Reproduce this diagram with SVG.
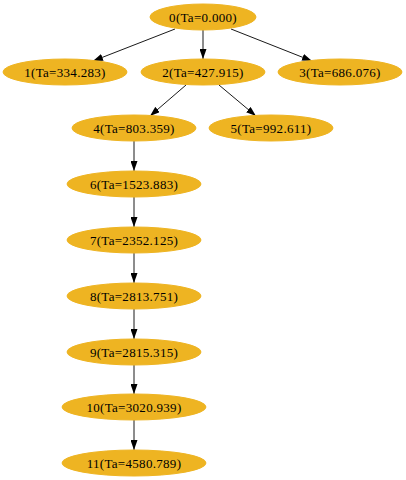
<svg xmlns="http://www.w3.org/2000/svg" width="406" height="480" viewBox="0 0 406 480">
<style>
.n ellipse{fill:#EEB422;stroke:#EEB422;stroke-width:1}
.n text{font-family:"Liberation Serif","Times New Roman",serif;font-size:13px;letter-spacing:0.3px;fill:#000;text-anchor:middle}
.e line{stroke:#1a1a1a;stroke-width:1}
</style>
<defs>
<marker id="ah" viewBox="0 0 10 7" refX="10" refY="3.5" markerWidth="10" markerHeight="7" markerUnits="userSpaceOnUse" orient="auto">
<path d="M0,0 L10,3.5 L0,7 z" fill="#000"/>
</marker>
</defs>
<rect width="406" height="480" fill="#fff"/>
<g class="e">
<line x1="175" y1="29" x2="93" y2="61" marker-end="url(#ah)"/>
<line x1="203" y1="30" x2="203" y2="59" marker-end="url(#ah)"/>
<line x1="231" y1="29" x2="312" y2="61" marker-end="url(#ah)"/>
<line x1="186" y1="85" x2="150" y2="116" marker-end="url(#ah)"/>
<line x1="219" y1="85" x2="256" y2="116" marker-end="url(#ah)"/>
<line x1="134" y1="141" x2="134" y2="171" marker-end="url(#ah)"/>
<line x1="134" y1="197" x2="134" y2="227" marker-end="url(#ah)"/>
<line x1="134" y1="253" x2="134" y2="283" marker-end="url(#ah)"/>
<line x1="134" y1="309" x2="134" y2="339" marker-end="url(#ah)"/>
<line x1="134" y1="365" x2="134" y2="394" marker-end="url(#ah)"/>
<line x1="134" y1="420" x2="134" y2="450" marker-end="url(#ah)"/>
</g>
<g id="node0" class="n"><ellipse cx="203" cy="17" rx="53" ry="13"/><text x="203" y="21.5">0(Ta=0.000)</text></g>
<g id="node1" class="n"><ellipse cx="65" cy="72" rx="62" ry="13"/><text x="65" y="76.5">1(Ta=334.283)</text></g>
<g id="node2" class="n"><ellipse cx="203" cy="72" rx="62" ry="13"/><text x="203" y="76.5">2(Ta=427.915)</text></g>
<g id="node3" class="n"><ellipse cx="340" cy="72" rx="62" ry="13"/><text x="340" y="76.5">3(Ta=686.076)</text></g>
<g id="node4" class="n"><ellipse cx="134" cy="128" rx="62" ry="13"/><text x="134" y="132.5">4(Ta=803.359)</text></g>
<g id="node5" class="n"><ellipse cx="271" cy="128" rx="62" ry="13"/><text x="271" y="132.5">5(Ta=992.611)</text></g>
<g id="node6" class="n"><ellipse cx="134" cy="184" rx="67" ry="13"/><text x="134" y="188.5">6(Ta=1523.883)</text></g>
<g id="node7" class="n"><ellipse cx="134" cy="240" rx="67" ry="13"/><text x="134" y="244.5">7(Ta=2352.125)</text></g>
<g id="node8" class="n"><ellipse cx="134" cy="296" rx="67" ry="13"/><text x="134" y="300.5">8(Ta=2813.751)</text></g>
<g id="node9" class="n"><ellipse cx="134" cy="352" rx="67" ry="13"/><text x="134" y="356.5">9(Ta=2815.315)</text></g>
<g id="node10" class="n"><ellipse cx="134" cy="407" rx="72" ry="13"/><text x="134" y="411.5">10(Ta=3020.939)</text></g>
<g id="node11" class="n"><ellipse cx="134" cy="463" rx="72" ry="13"/><text x="134" y="467.5">11(Ta=4580.789)</text></g>
</svg>
